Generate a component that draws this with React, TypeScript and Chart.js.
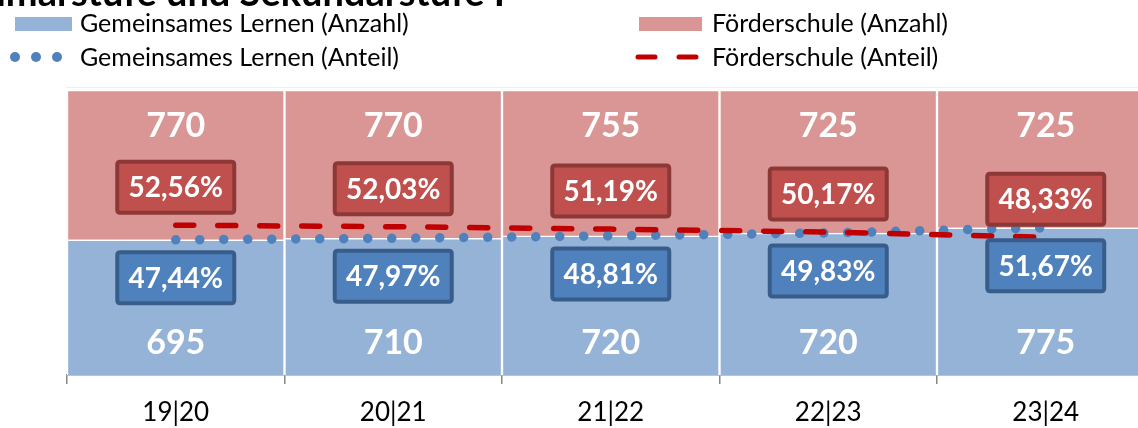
import React, { useEffect, useRef } from "react";
import { Chart, registerables } from "chart.js";

Chart.register(...registerables);

const categories = ["19|20", "20|21", "21|22", "22|23", "23|24"];
const glCount = [695, 710, 720, 720, 775];
const fsCount = [770, 770, 755, 725, 725];
const glShare = [47.44, 47.97, 48.81, 49.83, 51.67];
const fsShare = [52.56, 52.03, 51.19, 50.17, 48.33];
const glShareLabels = ["47,44%", "47,97%", "48,81%", "49,83%", "51,67%"];
const fsShareLabels = ["52,56%", "52,03%", "51,19%", "50,17%", "48,33%"];

const legendGL1 = "Gemeinsames Lernen (Anzahl)";
const legendGL2 = "Gemeinsames Lernen (Anteil)";
const legendFS1 = "Förderschule (Anzahl)";
const legendFS2 = "Förderschule (Anteil)";
const titleText = "Gemeinsames Lernen in der Primarstufe und Sekundarstufe I";

const FONT = "Lato, 'Open Sans', sans-serif";

const BLUE_BAR = "#95B3D7";
const RED_BAR = "#DA9694";
const BLUE_LINE = "#4F81BD";
const RED_LINE = "#C00000";

function roundRect(ctx: CanvasRenderingContext2D, x: number, y: number, w: number, h: number, r: number) {
  ctx.beginPath();
  ctx.moveTo(x + r, y);
  ctx.lineTo(x + w - r, y);
  ctx.quadraticCurveTo(x + w, y, x + w, y + r);
  ctx.lineTo(x + w, y + h - r);
  ctx.quadraticCurveTo(x + w, y + h, x + w - r, y + h);
  ctx.lineTo(x + r, y + h);
  ctx.quadraticCurveTo(x, y + h, x, y + h - r);
  ctx.lineTo(x, y + r);
  ctx.quadraticCurveTo(x, y, x + r, y);
  ctx.closePath();
}

const labelsPlugin = {
  id: "customLabels",
  afterDatasetsDraw(chart: any) {
    const ctx: CanvasRenderingContext2D = chart.ctx;
    const area = chart.chartArea;
    const xScale = chart.scales.x;
    const glMeta = chart.getDatasetMeta(2);
    const fsMeta = chart.getDatasetMeta(3);
    ctx.save();
    ctx.textAlign = "center";
    ctx.textBaseline = "middle";
    for (let i = 0; i < categories.length; i++) {
      const x = xScale.getPixelForValue(i);
      // counts
      ctx.fillStyle = "#ffffff";
      ctx.font = `bold 34px ${FONT}`;
      ctx.fillText(String(fsCount[i]), x, area.top + 36);
      ctx.fillText(String(glCount[i]), x, area.bottom - 32);

      // share boxes
      const w = 117;
      const h = 51;
      const fy = fsMeta.data[i].y - 38;
      const gy = glMeta.data[i].y + 38;

      ctx.lineWidth = 4;
      roundRect(ctx, x - w / 2, fy - h / 2, w, h, 3);
      ctx.fillStyle = "#C0504D";
      ctx.fill();
      ctx.strokeStyle = "#8C3836";
      ctx.stroke();

      roundRect(ctx, x - w / 2, gy - h / 2, w, h, 3);
      ctx.fillStyle = "#4F81BD";
      ctx.fill();
      ctx.strokeStyle = "#385D8A";
      ctx.stroke();

      ctx.fillStyle = "#ffffff";
      ctx.font = `bold 28px ${FONT}`;
      ctx.fillText(fsShareLabels[i], x, fy + 1);
      ctx.fillText(glShareLabels[i], x, gy + 1);
    }
    ctx.restore();
  },
};

const legendPlugin = {
  id: "customLegend",
  afterDraw(chart: any) {
    const ctx: CanvasRenderingContext2D = chart.ctx;
    ctx.save();
    // title (cut off at top)
    ctx.fillStyle = "#000";
    ctx.font = `bold 38px ${FONT}`;
    ctx.textAlign = "right";
    ctx.textBaseline = "alphabetic";
    ctx.fillText(titleText, 505, 6);

    ctx.textAlign = "left";
    ctx.font = `25px ${FONT}`;
    ctx.fillStyle = BLUE_BAR;
    ctx.fillRect(15, 17, 57, 14);
    ctx.fillStyle = "#000";
    ctx.fillText(legendGL1, 80, 32);

    ctx.fillStyle = BLUE_LINE;
    [15, 36, 57].forEach((cx) => {
      ctx.beginPath();
      ctx.arc(cx, 57, 5, 0, Math.PI * 2);
      ctx.fill();
    });
    ctx.fillStyle = "#000";
    ctx.fillText(legendGL2, 80, 66);

    ctx.fillStyle = RED_BAR;
    ctx.fillRect(639, 17, 63, 14);
    ctx.fillStyle = "#000";
    ctx.fillText(legendFS1, 712, 32);

    ctx.strokeStyle = RED_LINE;
    ctx.lineWidth = 5;
    ctx.lineCap = "round";
    ctx.beginPath();
    ctx.moveTo(638, 57);
    ctx.lineTo(655, 57);
    ctx.moveTo(679, 57);
    ctx.lineTo(696, 57);
    ctx.stroke();
    ctx.fillStyle = "#000";
    ctx.fillText(legendFS2, 712, 66);

    // faint top border of plot
    const area = chart.chartArea;
    ctx.strokeStyle = "#eeeeee";
    ctx.lineWidth = 1;
    ctx.beginPath();
    ctx.moveTo(area.left, area.top - 2.5);
    ctx.lineTo(area.right, area.top - 2.5);
    ctx.stroke();
    ctx.restore();
  },
};

export default function App() {
  const ref = useRef<HTMLCanvasElement | null>(null);
  useEffect(() => {
    if (!ref.current) return;
    const chart = new Chart(ref.current, {
      type: "bar",
      data: {
        labels: categories,
        datasets: [
          {
            type: "bar",
            label: legendGL1,
            data: glShare,
            backgroundColor: BLUE_BAR,
            borderColor: "#ffffff",
            borderWidth: 1.5,
            stack: "bars",
            order: 2,
            categoryPercentage: 1,
            barPercentage: 1,
          } as any,
          {
            type: "bar",
            label: legendFS1,
            data: fsShare,
            backgroundColor: RED_BAR,
            borderColor: "#ffffff",
            borderWidth: 1.5,
            stack: "bars",
            order: 2,
            categoryPercentage: 1,
            barPercentage: 1,
          } as any,
          {
            type: "line",
            label: legendGL2,
            data: glShare,
            borderColor: BLUE_LINE,
            borderWidth: 9.5,
            borderDash: [0.001, 24],
            borderCapStyle: "round",
            pointRadius: 0,
            fill: false,
            stack: "l1",
            order: 1,
          } as any,
          {
            type: "line",
            label: legendFS2,
            data: fsShare,
            borderColor: RED_LINE,
            borderWidth: 5.5,
            borderDash: [18, 24],
            borderCapStyle: "round",
            pointRadius: 0,
            fill: false,
            stack: "l2",
            order: 0,
          } as any,
        ],
      },
      options: {
        animation: false,
        responsive: false,
        layout: { padding: { left: 67, top: 90, right: 15.5, bottom: 0 } },
        plugins: { legend: { display: false }, tooltip: { enabled: false }, title: { display: false } },
        scales: {
          x: {
            stacked: true,
            offset: true,
            grid: {
              display: true,
              offset: true,
              drawOnChartArea: false,
              drawTicks: true,
              tickLength: 9,
              color: "#868686",
              lineWidth: 1.5,
            },
            border: { display: true, color: "#868686", width: 1.5 },
            ticks: {
              color: "#000",
              font: { family: FONT, size: 26 },
              padding: 13,
              maxRotation: 0,
            },
            afterFit(scale: any) {
              scale.height = 53;
            },
          } as any,
          y: {
            stacked: true,
            display: false,
            min: 0,
            max: 100,
          },
        },
      },
      plugins: [labelsPlugin, legendPlugin],
    });
    return () => chart.destroy();
  }, []);

  return (
    <div style={{ position: "fixed", left: 0, top: 0, width: 1138, height: 428, overflow: "hidden", background: "#fff" }}>
      <canvas ref={ref} width={1170} height={428} style={{ display: "block", width: 1170, height: 428 }} />
    </div>
  );
}
